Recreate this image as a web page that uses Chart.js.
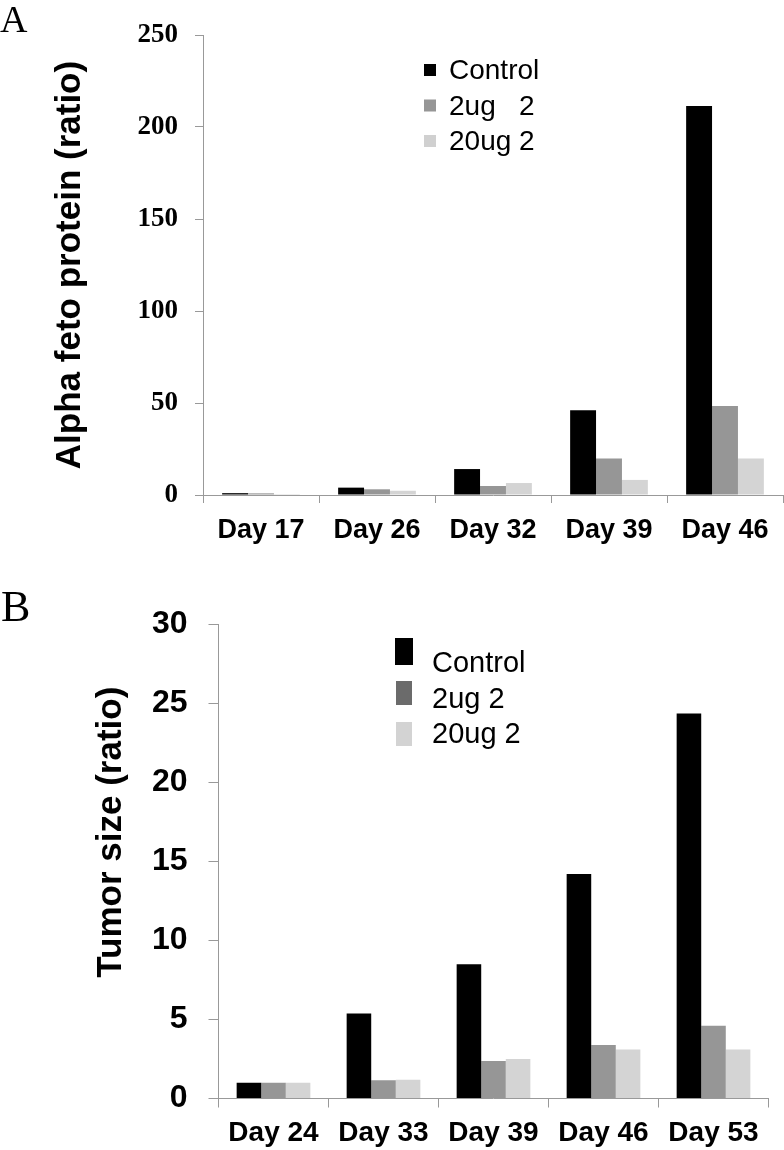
<!DOCTYPE html>
<html>
<head>
<meta charset="utf-8">
<script src="https://cdn.jsdelivr.net/npm/chart.js@4.4.1/dist/chart.umd.min.js"></script>
<style>
  html, body { margin: 0; padding: 0; background: #fff; }
  body { width: 784px; height: 1150px; position: relative; overflow: hidden; }
  .panel { position: absolute; left: 0; width: 784px; }
  #boxA { top: 0; height: 545px; }
  #boxB { top: 560px; height: 590px; }
  .letter { position: absolute; font-family: 'Liberation Serif', serif; line-height: 1; color: #000; }
  #letterA { left: 0; top: 0; font-size: 38px; }
  #letterB { left: 1px; top: 585px; font-size: 44px; }
</style>
</head>
<body>
<div class="panel" id="boxA"><canvas id="chartA"></canvas></div>
<div class="panel" id="boxB"><canvas id="chartB"></canvas></div>
<div class="letter" id="letterA">A</div>
<div class="letter" id="letterB">B</div>

<script>
// data - panel A (alpha feto protein)
var daysA = ['Day 17', 'Day 26', 'Day 32', 'Day 39', 'Day 46'];
var controlA = [1, 4, 14.1, 46, 211.4];
var low2A = [0.9, 3.1, 4.9, 19.9, 48.4];
var high20A = [0.5, 2.3, 6.5, 8.2, 19.9];
var ticksA = [0, 50, 100, 150, 200, 250];

// data - panel B (tumor size)
var daysB = ['Day 24', 'Day 33', 'Day 39', 'Day 46', 'Day 53'];
var controlB = [1, 5.38, 8.5, 14.2, 24.35];
var low2B = [1, 1.16, 2.37, 3.38, 4.6];
var high20B = [1, 1.18, 2.5, 3.1, 3.1];
var ticksB = [0, 5, 10, 15, 20, 25, 30];

var seriesNamesA = ['Control', '2ug   2', '20ug 2'];
var seriesNamesB = ['Control', '2ug 2', '20ug 2'];
var barColors = ['#000000', '#969696', '#d4d4d4'];

// legend drawn inside the plot, boxes + labels from the datasets
var insetLegend = {
  id: 'insetLegend',
  afterDraw: function(chart, args, opts) {
    var ctx = chart.ctx;
    ctx.save();
    ctx.font = opts.font;
    ctx.textBaseline = 'alphabetic';
    ctx.textAlign = 'left';
    chart.data.datasets.forEach(function(ds, i) {
      var base = opts.y + i * opts.gap;
      var b = opts.boxes[i];
      ctx.fillStyle = opts.colors[i];
      ctx.fillRect(b[0], base + b[1], b[2], b[3]);
      ctx.fillStyle = '#000';
      ctx.fillText(ds.label, opts.textX, base);
    });
    ctx.restore();
  }
};

function makeDatasets(names, series) {
  return names.map(function(n, i) {
    return {
      label: n,
      data: series[i],
      backgroundColor: barColors[i],
      borderWidth: 0,
      categoryPercentage: 0.67,
      barPercentage: 1.0
    };
  });
}

function makeChart(id, cfg) {
  return new Chart(document.getElementById(id), {
    type: 'bar',
    data: {
      labels: cfg.labels,
      datasets: makeDatasets(cfg.names, cfg.series)
    },
    plugins: [insetLegend],
    options: {
      responsive: true,
      maintainAspectRatio: false,
      animation: false,
      layout: { padding: { top: cfg.padTop, right: cfg.padRight, left: 0, bottom: 0 } },
      plugins: {
        legend: { display: false },
        tooltip: { enabled: false },
        insetLegend: cfg.legend
      },
      scales: {
        x: {
          grid: { display: true, drawOnChartArea: false, drawTicks: true, tickLength: cfg.xTickLen, color: '#999', offset: true },
          border: { display: true, color: '#999', width: 1 },
          ticks: { color: '#000', padding: cfg.xPad, maxRotation: 0, font: { family: 'Liberation Sans', weight: 'bold', size: cfg.xFont } },
          afterFit: function(s) { s.height = cfg.xHeight; s.paddingLeft = 0; s.paddingRight = 0; }
        },
        y: {
          min: 0,
          max: cfg.yTicks[cfg.yTicks.length - 1],
          afterBuildTicks: function(s) { s.ticks = cfg.yTicks.map(function(v) { return { value: v }; }); },
          grid: { display: true, drawOnChartArea: false, drawTicks: true, tickLength: cfg.yTickLen, color: '#999' },
          border: { display: true, color: '#999', width: 1 },
          ticks: { color: '#000', padding: cfg.yPad, font: cfg.yFont },
          title: {
            display: true,
            text: cfg.title,
            color: '#000',
            padding: { top: cfg.titlePad, bottom: 0 },
            font: { family: 'Liberation Sans', weight: 'bold', size: 35 }
          },
          afterFit: function(s) { s.width = cfg.yWidth; }
        }
      }
    }
  });
}

makeChart('chartA', {
  labels: daysA,
  names: seriesNamesA,
  series: [controlA, low2A, high20A],
  yTicks: ticksA,
  padTop: 35, padRight: 1,
  xHeight: 50, yWidth: 203,
  xTickLen: 8, yTickLen: 8,
  xPad: 11, yPad: 17,
  xFont: 27,
  yFont: { family: 'Liberation Serif', weight: 'bold', size: 27 },
  title: 'Alpha feto protein (ratio)',
  titlePad: 49,
  legend: {
    font: '28px "Liberation Sans"',
    y: 79, gap: 35.5, textX: 449,
    colors: ['#000000', '#969696', '#d0d0d0'],
    boxes: [[424, -15, 12, 12], [424, -15, 12, 12], [424, -15, 12, 12]]
  }
});

makeChart('chartB', {
  labels: daysB,
  names: seriesNamesB,
  series: [controlB, low2B, high20B],
  yTicks: ticksB,
  padTop: 64.3, padRight: 15.5,
  xHeight: 51.5, yWidth: 218.5,
  xTickLen: 9, yTickLen: 10,
  xPad: 9, yPad: 21,
  xFont: 28,
  yFont: { family: 'Liberation Sans', weight: 'bold', size: 32 },
  title: '      Tumor size (ratio)',
  titlePad: 90,
  legend: {
    font: '29px "Liberation Sans"',
    y: 112, gap: 35.5, textX: 432,
    colors: ['#000000', '#6b6b6b', '#d3d3d3'],
    boxes: [[395, -34, 18, 27], [396, -26.5, 16, 24], [396, -21, 16, 24]]
  }
});
</script>
</body>
</html>
